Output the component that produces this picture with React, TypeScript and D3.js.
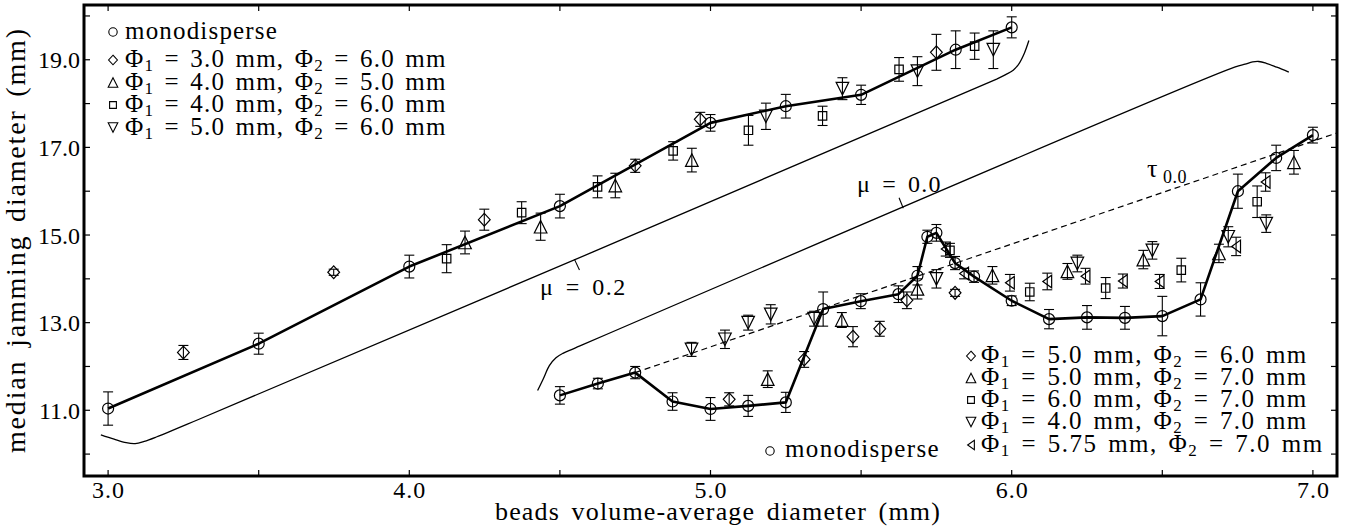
import React from 'react';
import * as d3 from 'd3';

// ---------- axes ----------
const xDomain: [number, number] = [2.92, 7.08];
const yDomain: [number, number] = [9.5, 20.25];
const xTickValues = [3.0, 3.5, 4.0, 4.5, 5.0, 5.5, 6.0, 6.5, 7.0];
const xTickLabels = ['3.0', '', '4.0', '', '5.0', '', '6.0', '', '7.0'];
const yTickValues = [10, 11, 12, 13, 14, 15, 16, 17, 18, 19, 20];
const yTickLabels = ['', '11.0', '', '13.0', '', '15.0', '', '17.0', '', '19.0', ''];
const xAxisLabel = 'beads volume-average diameter (mm)';
const yAxisLabel = 'median jamming diameter (mm)';

type Pt = [number, number, number]; // x, y, error

// ---------- upper branch ----------
const monoUpper: Pt[] = [
  [3.0, 11.04, 0.38], [3.5, 12.52, 0.24], [4.0, 14.28, 0.26], [4.5, 15.66, 0.27],
  [5.0, 17.56, 0.19], [5.25, 17.94, 0.27], [5.5, 18.2, 0.22], [5.814, 19.23, 0.43], [6.0, 19.74, 0.24],
];
const diamUpper: Pt[] = [
  [3.25, 12.32, 0.16], [3.749, 14.15, 0.07], [4.249, 15.35, 0.24], [4.75, 16.58, 0.15],
  [4.966, 17.64, 0.16], [5.75, 19.17, 0.41],
];
const triUpUpper: Pt[] = [
  [4.185, 14.83, 0.26], [4.436, 15.19, 0.31], [4.684, 16.13, 0.28], [4.938, 16.71, 0.27],
];
const squareUpper: Pt[] = [
  [4.124, 14.46, 0.32], [4.373, 15.51, 0.25], [4.625, 16.1, 0.25], [4.876, 16.92, 0.21],
  [5.126, 17.39, 0.34], [5.372, 17.72, 0.22], [5.626, 18.78, 0.27], [5.877, 19.31, 0.3],
];
const triDownUpper: Pt[] = [
  [5.184, 17.71, 0.3], [5.438, 18.34, 0.25], [5.687, 18.74, 0.33], [5.939, 19.23, 0.43],
];

// ---------- lower branch ----------
const monoLower: Pt[] = [
  [4.5, 11.34, 0.2], [4.626, 11.61, 0.12], [4.75, 11.86, 0.14], [4.874, 11.2, 0.2],
  [5.0, 11.03, 0.26], [5.125, 11.1, 0.24], [5.25, 11.18, 0.23], [5.374, 13.31, 0.39],
  [5.499, 13.49, 0.17], [5.624, 13.65, 0.19], [5.687, 14.07, 0.21], [5.72, 14.96, 0.15],
  [5.75, 15.05, 0.19], [5.812, 14.36, 0.15], [5.875, 14.05, 0.13], [6.0, 13.5, 0.11],
  [6.124, 13.08, 0.22], [6.25, 13.12, 0.27], [6.376, 13.11, 0.26], [6.5, 13.15, 0.45],
  [6.627, 13.53, 0.38], [6.751, 16.0, 0.39], [6.878, 16.76, 0.29], [7.0, 17.28, 0.18],
];
const diamLower: Pt[] = [
  [5.062, 11.25, 0.15], [5.311, 12.16, 0.18], [5.473, 12.68, 0.23], [5.562, 12.86, 0.17],
  [5.652, 13.51, 0.19], [5.812, 13.68, 0.08],
];
const triUpLower: Pt[] = [
  [5.19, 11.71, 0.19], [5.436, 13.06, 0.17], [5.687, 13.77, 0.23], [5.936, 14.08, 0.2],
  [6.185, 14.17, 0.18], [6.437, 14.44, 0.21], [6.688, 14.58, 0.21], [6.937, 16.66, 0.27],
];
const squareLower: Pt[] = [
  [5.795, 14.65, 0.16], [6.06, 13.7, 0.2], [6.312, 13.79, 0.24], [6.563, 14.2, 0.27], [6.815, 15.76, 0.36],
];
const triDownLower: Pt[] = [
  [4.937, 12.39, 0.16], [5.048, 12.62, 0.21], [5.125, 13.0, 0.17], [5.2, 13.19, 0.22],
  [5.344, 13.09, 0.17], [5.75, 14.0, 0.21], [6.218, 14.35, 0.19], [6.467, 14.65, 0.2],
  [6.719, 14.96, 0.23], [6.845, 15.26, 0.2],
];
const triLeftLower: Pt[] = [
  [5.781, 14.68, 0.16], [5.842, 14.12, 0.12], [5.994, 13.91, 0.19], [6.118, 13.94, 0.19],
  [6.245, 14.06, 0.18], [6.369, 13.95, 0.16], [6.491, 13.94, 0.16], [6.745, 14.74, 0.21],
  [6.843, 16.21, 0.21],
];

// ---------- theory curves ----------
const mu02X = [2.976, 3.02, 3.06, 3.09, 3.12, 3.16, 3.3, 5.95, 5.98, 6.005, 6.025, 6.042, 6.057];
const mu02Y = [10.44, 10.34, 10.26, 10.24, 10.29, 10.39, 10.79, 18.56, 18.66, 18.76, 18.92, 19.15, 19.44];
const mu00X = [4.426, 4.445, 4.465, 4.487, 4.51, 4.55, 6.74, 6.775, 6.8, 6.82, 6.845, 6.88, 6.92];
const mu00Y = [11.45, 11.72, 12.02, 12.2, 12.3, 12.42, 18.83, 18.9, 18.95, 18.96, 18.92, 18.83, 18.72];
const tauX = [4.75, 7.08];
const tauY = [11.86, 17.33];
const mu02PointerX = [4.548, 4.565];
const mu02PointerY = [14.45, 14.2];
const mu00PointerX = [5.626, 5.64];
const mu00PointerY = [15.85, 15.61];

// ---------- legends ----------
const upperLegendMarkers = ['o', 'D', '^', 's', 'v'];
const upperLegendPairs: [string, string][] = [['3.0', '6.0'], ['4.0', '5.0'], ['4.0', '6.0'], ['5.0', '6.0']];
const lowerLegendMarkers = ['D', '^', 's', 'v', '<'];
const lowerLegendPairs: [string, string][] = [['5.0', '6.0'], ['5.0', '7.0'], ['6.0', '7.0'], ['4.0', '7.0'], ['5.75', '7.0']];

const FONT = 'Liberation Serif';

// approximate advance widths (em) of Liberation Serif, used to stretch text to the reference widths
const CW: Record<string, number> = {
  ' ': 0.25, '.': 0.25, ',': 0.25, '=': 0.564, '(': 0.333, ')': 0.333, '-': 0.333,
  a: 0.444, b: 0.5, d: 0.5, e: 0.444, g: 0.5, i: 0.278, j: 0.278, l: 0.278, m: 0.778, n: 0.5,
  o: 0.5, p: 0.5, r: 0.333, s: 0.389, t: 0.278, u: 0.5, v: 0.5, 'Φ': 0.76, 'μ': 0.55, 'τ': 0.45,
};
const cw = (c: string) => (CW[c] !== undefined ? CW[c] : 0.5);
function spacingFor(parts: [string, number][], target: number, ws: number): number {
  let w = 0, n = 0, sp = 0;
  parts.forEach(([s, size]) => {
    for (const c of s) { w += cw(c) * size; n += 1; if (c === ' ') sp += 1; }
  });
  return (target - w - sp * ws) / n;
}

function markerPath(kind: string, s: number): string {
  switch (kind) {
    case 'o': {
      const p = d3.path();
      p.arc(0, 0, s, 0, Math.PI * 2);
      p.closePath();
      return p.toString();
    }
    case 'D':
      return `M0,${-s}L${s * 0.92},0L0,${s}L${-s * 0.92},0Z`;
    case 's': {
      const h = s * 0.68;
      return `M${-h},${-h}H${h}V${h}H${-h}Z`;
    }
    case '^':
      return `M0,${-s}L${s},${s}L${-s},${s}Z`;
    case 'v':
      return `M0,${s}L${s},${-s}L${-s},${-s}Z`;
    case '<':
      return `M${-s * 0.7},0L${s * 0.7},${-s}L${s * 0.7},${s}Z`;
  }
  return '';
}

const markerSize: Record<string, number> = { o: 5.5, D: 6.4, s: 6.2, '^': 6.3, v: 6.3, '<': 6.3 };
const legendMarkerSize: Record<string, number> = { o: 4.2, D: 4.8, s: 5.0, '^': 4.8, v: 4.8, '<': 4.8 };

const L = 84, R = 1337, T = 5, B = 476;
const LEG = 25, SUB = 17;

function PhiLabel({ x, y, a, b, target }: { x: number; y: number; a: string; b: string; target: number }) {
  const p1 = ` = ${a} mm, Φ`;
  const p2 = ` = ${b} mm`;
  const ws = 3;
  const ls = spacingFor([['Φ', LEG], ['1', SUB], [p1, LEG], ['2', SUB], [p2, LEG]], target, ws);
  return (
    <text x={x} y={y} fontFamily={FONT} fontSize={LEG} letterSpacing={ls.toFixed(2)} wordSpacing={ws}>
      <tspan>Φ</tspan>
      <tspan fontSize={SUB} dy={4}>1</tspan>
      <tspan dy={-4}>{p1}</tspan>
      <tspan fontSize={SUB} dy={4}>2</tspan>
      <tspan dy={-4}>{p2}</tspan>
    </text>
  );
}

function FitText({ x, y, size, text, target, ws = 3, transform }: {
  x: number; y: number; size: number; text: string; target: number; ws?: number; transform?: string;
}) {
  const ls = spacingFor([[text, size]], target, ws);
  return (
    <text x={x} y={y} transform={transform} fontFamily={FONT} fontSize={size}
      letterSpacing={ls.toFixed(2)} wordSpacing={ws}>{text}</text>
  );
}

export default function App() {
  const x = d3.scaleLinear().domain(xDomain).range([L, R]);
  const y = d3.scaleLinear().domain(yDomain).range([B, T]);

  const curve = d3.line<[number, number]>().x(d => x(d[0])).y(d => y(d[1])).curve(d3.curveCatmullRom.alpha(0.5));
  const straight = d3.line<[number, number]>().x(d => x(d[0])).y(d => y(d[1]));
  const zip = (a: number[], b: number[]) => a.map((v, i) => [v, b[i]] as [number, number]);
  const pline = d3.line<Pt>().x(d => x(d[0])).y(d => y(d[1]));

  const series: [Pt[], string][] = [
    [monoUpper, 'o'], [diamUpper, 'D'], [triUpUpper, '^'], [squareUpper, 's'], [triDownUpper, 'v'],
    [monoLower, 'o'], [diamLower, 'D'], [triUpLower, '^'], [squareLower, 's'], [triDownLower, 'v'], [triLeftLower, '<'],
  ];

  const upBase = [39, 67, 89.5, 112, 134.5];
  const lowBase = [363, 385, 407, 429, 452];
  const ylLen = 426;

  return (
    <svg width={1360} height={532} style={{ position: 'absolute', left: 0, top: 0, display: 'block' }}>
      <rect width={1360} height={532} fill="#fff" />
      <defs>
        <clipPath id="plotclip">
          <rect x={L} y={T} width={R - L} height={B - T} />
        </clipPath>
      </defs>

      <g clipPath="url(#plotclip)" fill="none" stroke="#000">
        <path d={curve(zip(mu02X, mu02Y)) || ''} strokeWidth={1.3} />
        <path d={curve(zip(mu00X, mu00Y)) || ''} strokeWidth={1.3} />
        <path d={straight(zip(mu02PointerX, mu02PointerY)) || ''} strokeWidth={1.1} />
        <path d={straight(zip(mu00PointerX, mu00PointerY)) || ''} strokeWidth={1.1} />
        <path d={straight(zip(tauX, tauY)) || ''} strokeWidth={1.2} strokeDasharray="6,4" />
        {[monoUpper, monoLower].map((s, i) => (
          <path key={'m' + i} d={pline(s) || ''} strokeWidth={2.6} strokeLinejoin="round" />
        ))}
        {series.map(([data, kind], si) => (
          <g key={'s' + si}>
            {data.map((d, i) => {
              const cx = x(d[0]);
              const y0 = y(d[1] - d[2]);
              const y1 = y(d[1] + d[2]);
              return (
                <g key={i} strokeWidth={1.1}>
                  <line x1={cx} x2={cx} y1={y0} y2={y1} />
                  <line x1={cx - 5} x2={cx + 5} y1={y0} y2={y0} />
                  <line x1={cx - 5} x2={cx + 5} y1={y1} y2={y1} />
                  <path d={markerPath(kind, markerSize[kind])} transform={`translate(${cx},${y(d[1])})`} strokeWidth={1.2} />
                </g>
              );
            })}
          </g>
        ))}
      </g>

      <rect x={L} y={T} width={R - L} height={B - T} fill="none" stroke="#000" strokeWidth={3} />
      <g stroke="#000" strokeWidth={1.2}>
        {xTickValues.map(v => (
          <g key={'xt' + v}>
            <line x1={x(v)} x2={x(v)} y1={B} y2={B - 6} />
            <line x1={x(v)} x2={x(v)} y1={T} y2={T + 6} />
          </g>
        ))}
        {yTickValues.map(v => (
          <g key={'yt' + v}>
            <line x1={L} x2={L + 6} y1={y(v)} y2={y(v)} />
            <line x1={R} x2={R - 6} y1={y(v)} y2={y(v)} />
          </g>
        ))}
      </g>

      <g fill="#000">
        {xTickValues.map((v, i) => xTickLabels[i] ? (
          <text key={'xl' + v} x={x(v) + 0.5} y={498} textAnchor="middle" fontFamily={FONT} fontSize={24} letterSpacing={1}>
            {xTickLabels[i]}
          </text>
        ) : null)}
        {yTickValues.map((v, i) => yTickLabels[i] ? (
          <text key={'yl' + v} x={80} y={y(v) + 8.5} textAnchor="end" fontFamily={FONT} fontSize={24}>
            {yTickLabels[i]}
          </text>
        ) : null)}

        <FitText x={495} y={520} size={26} text={xAxisLabel} target={446} ws={4} />
        <FitText x={-ylLen / 2} y={0} transform="translate(25,240) rotate(-90)" size={28} text={yAxisLabel} target={ylLen} ws={4} />

        <FitText x={540} y={295} size={24} text="μ = 0.2" target={87} ws={4} />
        <FitText x={857} y={192} size={24} text="μ = 0.0" target={85} ws={4} />
        <text x={1147} y={177} fontFamily={FONT} fontSize={26}>τ</text>
        <FitText x={1163} y={183} size={18} text="0.0" target={24} />

        {upperLegendMarkers.map((k, i) => (
          <path key={'ul' + i} d={markerPath(k, legendMarkerSize[k])} transform={`translate(113,${upBase[i] - 7})`}
            fill="none" stroke="#000" strokeWidth={1.1} />
        ))}
        <FitText x={125} y={upBase[0]} size={LEG} text="monodisperse" target={153} />
        {upperLegendPairs.map((p, i) => (
          <PhiLabel key={'up' + i} x={125} y={upBase[i + 1]} a={p[0]} b={p[1]} target={323} />
        ))}

        {lowerLegendMarkers.map((k, i) => (
          <path key={'ll' + i} d={markerPath(k, legendMarkerSize[k])} transform={`translate(971,${lowBase[i] - 7})`}
            fill="none" stroke="#000" strokeWidth={1.1} />
        ))}
        {lowerLegendPairs.map((p, i) => (
          <PhiLabel key={'lp' + i} x={981} y={lowBase[i]} a={p[0]} b={p[1]} target={i === 4 ? 344 : 328} />
        ))}
        <path d={markerPath('o', legendMarkerSize.o)} transform="translate(770,451)" fill="none" stroke="#000" strokeWidth={1.1} />
        <FitText x={785} y={457} size={LEG} text="monodisperse" target={155} />
      </g>
    </svg>
  );
}
